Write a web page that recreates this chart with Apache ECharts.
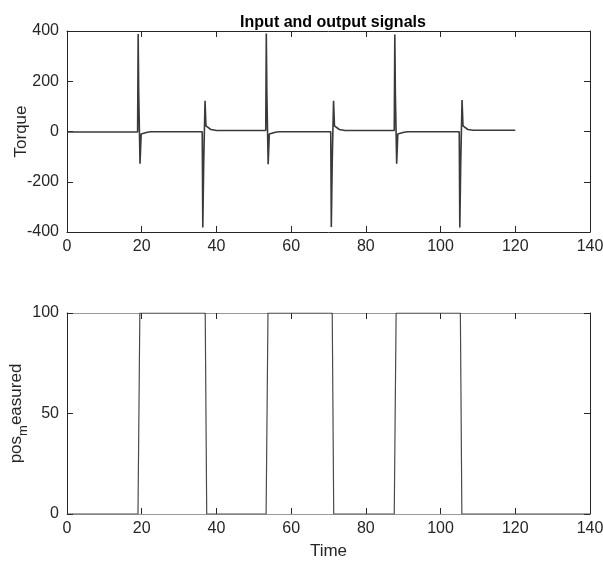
<!DOCTYPE html>
<html>
<head>
<meta charset="utf-8">
<script src="https://cdn.jsdelivr.net/npm/echarts@6/dist/echarts.min.js"></script>
<style>
html,body{margin:0;padding:0;background:#fff;}
#chart{width:603px;height:568px;}
</style>
</head>
<body>
<div id="chart"></div>
<script>
// ---- data ----
const titleText = 'Input and output signals';
const xTicks = [0, 20, 40, 60, 80, 100, 120, 140];
const torqueTicks = [-400, -200, 0, 200, 400];
const posTicks = [0, 50, 100];

// Torque (upper plot): time / value pairs
const torqueTime = [
  0, 18.9,
  19.05, 19.2, 19.55, 19.85, 20.3, 21.5, 22.5, 36.2,
  36.35, 36.6, 36.95, 37.2, 37.6, 38.5, 40.0, 53.2,
  53.35, 53.5, 53.85, 54.15, 54.6, 55.8, 56.8, 70.6,
  70.75, 71.0, 71.35, 71.6, 72.0, 72.9, 74.4, 87.6,
  87.75, 87.9, 88.25, 88.55, 89.0, 90.2, 91.2, 105.0,
  105.15, 105.4, 105.75, 106.0, 106.4, 107.3, 108.8, 120
];
const torqueValue = [
  -2, -2,
  388, 150, -128, -10, -9, -3, -1, -1,
  -382, -120, 122, 22, 16, 8, 4, 4,
  390, 150, -130, -10, -9, -3, -1, -1,
  -380, -120, 122, 22, 16, 8, 4, 4,
  386, 150, -128, -10, -9, -3, -1, -1,
  -382, -120, 125, 22, 16, 8, 5, 5
];

// Position measured (lower plot)
const posTime  = [0, 19.0, 19.5, 37.0, 37.4, 53.3, 53.8, 71.0, 71.4, 87.6, 88.1, 105.3, 105.7, 140];
const posValue = [0, 0, 100, 100, 0, 0, 100, 100, 0, 0, 100, 100, 0, 0];

const FONT = "'Liberation Sans Narrow', 'Liberation Sans', Arial, sans-serif";

function zip(a, b) { return a.map((v, i) => [v, b[i]]); }

const chart = echarts.init(document.getElementById('chart'), null, {renderer: 'canvas'});

function xAxisPair(gridIndex, showLabels, name, lineColor) {
  return [
    {
      type: 'value', gridIndex: gridIndex, position: 'bottom',
      min: xTicks[0], max: xTicks[xTicks.length - 1], interval: 20,
      name: name, nameLocation: 'middle', nameGap: 29, nameMoveOverlap: false,
      nameTextStyle: {fontFamily: FONT, fontSize: 17, color: '#262626'},
      axisLine: {show: true, onZero: false, lineStyle: {color: lineColor, width: 1}},
      axisTick: {show: true, inside: true, length: 6, lineStyle: {color: '#262626'}},
      axisLabel: {show: showLabels, fontFamily: FONT, fontSize: 16, color: '#262626', margin: 7},
      splitLine: {show: false}
    },
    {
      type: 'value', gridIndex: gridIndex, position: 'top',
      min: xTicks[0], max: xTicks[xTicks.length - 1], interval: 20,
      axisLine: {show: true, onZero: false, lineStyle: {color: lineColor, width: 1}},
      axisTick: {show: true, inside: true, length: 6, lineStyle: {color: '#262626'}},
      axisLabel: {show: false},
      splitLine: {show: false}
    }
  ];
}

function yAxisPair(gridIndex, ticks, interval, name) {
  return [
    {
      type: 'value', gridIndex: gridIndex, position: 'left',
      min: ticks[0], max: ticks[ticks.length - 1], interval: interval,
      name: name, nameLocation: 'middle', nameGap: 37, nameMoveOverlap: false,
      nameTextStyle: {
        fontFamily: FONT, fontSize: 17, color: '#262626',
        rich: {
          a: {fontFamily: FONT, fontSize: 17, color: '#262626', lineHeight: 22, verticalAlign: 'top'},
          b: {fontFamily: FONT, fontSize: 13, color: '#262626', lineHeight: 22, verticalAlign: 'bottom', padding: [9, 0, 0, 0]}
        }
      },
      axisLine: {show: true, onZero: false, lineStyle: {color: '#262626', width: 1}},
      axisTick: {show: true, inside: true, length: 6, lineStyle: {color: '#262626'}},
      axisLabel: {fontFamily: FONT, fontSize: 16, color: '#262626', margin: 8},
      splitLine: {show: false}
    },
    {
      type: 'value', gridIndex: gridIndex, position: 'right',
      min: ticks[0], max: ticks[ticks.length - 1], interval: interval,
      axisLine: {show: true, onZero: false, lineStyle: {color: '#262626', width: 1}},
      axisTick: {show: true, inside: true, length: 6, lineStyle: {color: '#262626'}},
      axisLabel: {show: false},
      splitLine: {show: false}
    }
  ];
}

const topAxes = xAxisPair(0, true, '', '#262626');
const botAxes = xAxisPair(1, true, 'Time', '#262626');
botAxes[0].axisLine.lineStyle.color = '#9a9a9a';
botAxes[1].axisLine.lineStyle.color = '#9a9a9a';

const option = {
  backgroundColor: '#ffffff',
  animation: false,
  title: {
    text: titleText, left: 328, textAlign: 'center', top: 10,
    textStyle: {fontFamily: FONT, fontSize: 16, fontWeight: 'bold', color: '#000'}
  },
  grid: [
    {left: 67, top: 31, width: 523, height: 201, containLabel: false, outerBoundsMode: 'none'},
    {left: 67, top: 313, width: 523, height: 201, containLabel: false, outerBoundsMode: 'none'}
  ],
  xAxis: [topAxes[0], topAxes[1], botAxes[0], botAxes[1]],
  yAxis: [].concat(
    yAxisPair(0, torqueTicks, 200, 'Torque'),
    yAxisPair(1, posTicks, 50, '{a|pos}{b|m}{a|easured}')
  ),
  series: [
    {
      type: 'line', xAxisIndex: 0, yAxisIndex: 0,
      data: zip(torqueTime, torqueValue),
      showSymbol: false, symbol: 'none',
      lineStyle: {color: '#3a3a3a', width: 1.6}
    },
    {
      type: 'line', xAxisIndex: 2, yAxisIndex: 2,
      data: zip(posTime, posValue),
      showSymbol: false, symbol: 'none',
      lineStyle: {color: '#4a4a4a', width: 1.2}
    }
  ]
};
chart.setOption(option);
</script>
</body>
</html>
